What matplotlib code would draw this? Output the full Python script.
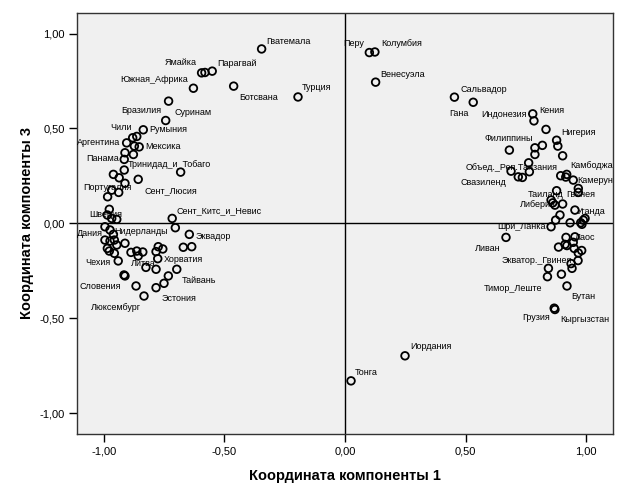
import matplotlib
matplotlib.use("Agg")
import matplotlib.pyplot as plt
from matplotlib.ticker import FuncFormatter

plt.rcParams['font.family'] = ['Liberation Sans', 'DejaVu Sans']

# страны (пустая строка - точка без подписи)
countries = [
    "Гватемала", "Ямайка", "", "Парагвай", "Южная_Африка", "Ботсвана", "Турция",
    "Суринам", "Бразилия", "Румыния", "Чили", "", "Аргентина", "", "Мексика",
    "", "", "Панама", "Тринидад_и_Тобаго", "", "", "", "Сент_Люсия", "",
    "Португалия", "", "", "", "Швеция", "", "", "Сент_Китс_и_Невис", "", "",
    "Нидерланды", "", "Дания", "", "", "", "", "", "", "", "", "", "", "",
    "", "", "", "Хорватия", "Эквадор", "", "", "Чехия", "Литва", "", "Тайвань",
    "", "", "", "Словения", "Эстония", "", "Люксембург",
    "Перу", "Колумбия", "Венесуэла", "Сальвадор", "Гана", "Индонезия", "Кения",
    "", "Нигерия", "", "", "", "Филиппины", "", "", "", "Объед._Реп.Танзания",
    "", "Свазиленд", "", "", "Камбоджа", "", "Камерун", "Таиланд", "", "Гвинея",
    "", "Либерия", "", "", "Уганда", "", "", "", "", "", "", "", "Шри_Ланка",
    "Ливан", "Лаос", "", "", "", "", "", "", "", "", "", "Экватор._Гвинея",
    "", "", "Тимор_Леште", "", "Бутан", "Грузия", "Кыргызстан", "Иордания", "Тонга",
]

comp1 = [
    -0.346, -0.595, -0.581, -0.551, -0.629, -0.462, -0.195,
    -0.732, -0.744, -0.837, -0.864, -0.881, -0.906, -0.874, -0.854,
    -0.913, -0.878, -0.916, -0.916, -0.682, -0.961, -0.937, -0.858, -0.913,
    -0.968, -0.939, -0.985, -0.978, -0.986, -0.968, -0.947, -0.717, -0.704, -0.996,
    -0.975, -0.961, -0.996, -0.975, -0.957, -0.913, -0.947, -0.986, -0.978, -0.957, -0.888, -0.864, -0.839, -0.858,
    -0.775, -0.756, -0.784, -0.777, -0.646, -0.671, -0.636, -0.941, -0.826, -0.784, -0.698,
    -0.733, -0.917, -0.913, -0.867, -0.784, -0.751, -0.834,
    0.101, 0.124, 0.127, 0.454, 0.532, 0.779, 0.784,
    0.834, 0.878, 0.883, 0.819, 0.788, 0.682, 0.788, 0.903, 0.762, 0.689,
    0.765, 0.719, 0.736, 0.895, 0.920, 0.916, 0.947, 0.878, 0.968, 0.968,
    0.855, 0.862, 0.871, 0.903, 0.954, 0.892, 0.874, 0.934, 0.978, 0.989, 0.996, 0.983, 0.855,
    0.668, 0.917, 0.954, 0.913, 0.921, 0.947, 0.886, 0.951, 0.982, 0.968, 0.967, 0.938,
    0.942, 0.844, 0.840, 0.898, 0.921, 0.868, 0.871, 0.249, 0.025,
]

comp3 = [
    0.919, 0.793, 0.795, 0.802, 0.712, 0.723, 0.666,
    0.644, 0.542, 0.493, 0.458, 0.451, 0.424, 0.407, 0.403,
    0.372, 0.363, 0.337, 0.281, 0.270, 0.258, 0.240, 0.232, 0.211,
    0.175, 0.163, 0.140, 0.074, 0.044, 0.026, 0.021, 0.026, -0.023, -0.018,
    -0.035, -0.058, -0.088, -0.093, -0.088, -0.105, -0.114, -0.132, -0.146, -0.158, -0.153, -0.146, -0.151, -0.172,
    -0.123, -0.135, -0.149, -0.186, -0.058, -0.126, -0.123, -0.198, -0.232, -0.242, -0.242,
    -0.277, -0.272, -0.277, -0.330, -0.339, -0.316, -0.383,
    0.900, 0.903, 0.744, 0.665, 0.638, 0.577, 0.540,
    0.495, 0.438, 0.407, 0.411, 0.398, 0.386, 0.363, 0.356, 0.319, 0.275,
    0.272, 0.245, 0.242, 0.251, 0.258, 0.244, 0.228, 0.172, 0.184, 0.163,
    0.123, 0.108, 0.096, 0.102, 0.070, 0.044, 0.017, 0.003, 0.003, 0.017, 0.026, -0.005, -0.018,
    -0.074, -0.074, -0.071, -0.111, -0.117, -0.100, -0.125, -0.132, -0.143, -0.156, -0.196, -0.212,
    -0.237, -0.237, -0.281, -0.268, -0.330, -0.447, -0.454, -0.698, -0.830,
]

ticks = [-1.0, -0.5, 0.0, 0.5, 1.0]

# смещения подписей от точек в пикселях (dx, dy, выравнивание)
label_pos = {
    "Гватемала": (5, 7, 'left'), "Ямайка": (-5, 10, 'right'), "Парагвай": (5, 8, 'left'),
    "Южная_Африка": (-5, 9, 'right'), "Ботсвана": (6, -11, 'left'), "Турция": (4, 9, 'left'),
    "Суринам": (6, -11, 'left'), "Бразилия": (-4, 10, 'right'), "Чили": (-5, 9, 'right'),
    "Румыния": (6, 0, 'left'), "Аргентина": (-6, 0, 'right'), "Мексика": (6, 0, 'left'),
    "Панама": (-5, 1, 'right'), "Тринидад_и_Тобаго": (4, 6, 'left'),
    "Португалия": (-28, 3, 'left'), "Сент_Люсия": (6, -11, 'left'), "Швеция": (-18, 0, 'left'),
    "Сент_Китс_и_Невис": (4, 8, 'left'), "Нидерланды": (4, -2, 'left'), "Дания": (-2, 7, 'right'),
    "Эквадор": (6, -2, 'left'), "Хорватия": (6, -1, 'left'), "Чехия": (-8, -2, 'right'),
    "Литва": (-15, 4, 'left'), "Тайвань": (5, -11, 'left'), "Словения": (-15, -1, 'right'),
    "Эстония": (6, -11, 'left'), "Люксембург": (-3, -11, 'right'),
    "Перу": (-5, 9, 'right'), "Колумбия": (6, 8, 'left'), "Венесуэла": (5, 8, 'left'),
    "Сальвадор": (6, 8, 'left'), "Гана": (-5, -11, 'right'), "Индонезия": (-6, -1, 'right'),
    "Кения": (5, 10, 'left'), "Нигерия": (5, 8, 'left'), "Филиппины": (-25, 12, 'left'),
    "Объед._Реп.Танзания": (-45, 4, 'left'), "Камбоджа": (4, 9, 'left'), "Камерун": (4, 0, 'left'),
    "Свазиленд": (-12, -6, 'right'), "Таиланд": (-29, -4, 'left'), "Гвинея": (-12, -2, 'left'),
    "Либерия": (-33, -2, 'left'), "Уганда": (2, -1, 'left'), "Шри_Ланка": (-5, 0, 'right'),
    "Ливан": (-5, -11, 'right'), "Лаос": (9, 0, 'left'), "Экватор._Гвинея": (1, 3, 'right'),
    "Тимор_Леште": (-5, -12, 'right'), "Бутан": (4, -11, 'left'), "Грузия": (-4, -9, 'right'),
    "Кыргызстан": (5, -10, 'left'), "Иордания": (5, 9, 'left'), "Тонга": (4, 8, 'left'),
}

fig = plt.figure(figsize=(6.25, 5), dpi=100)
ax = fig.add_axes([0.1232, 0.132, 0.8576, 0.8426])
ax.set_facecolor('#F0F0F0')

ax.axhline(0, color='black', lw=1, zorder=1)
ax.axvline(0, color='black', lw=1, zorder=1)
ax.scatter(comp1, comp3, s=30, facecolors='none', edgecolors='black', linewidths=1.3, zorder=3)

for name, x, y in zip(countries, comp1, comp3):
    if name:
        dx, dy, ha = label_pos[name]
        ax.annotate(name, (x, y), xytext=(dx, dy), textcoords='offset pixels',
                    ha=ha, va='center', fontsize=6.5, zorder=4)

ax.set_xlim(-1.112, 1.112)
ax.set_ylim(-1.11, 1.11)
ax.set_xticks(ticks)
ax.set_yticks(ticks)
fmt = FuncFormatter(lambda v, p: ('%.2f' % v).replace('.', ','))
ax.xaxis.set_major_formatter(fmt)
ax.yaxis.set_major_formatter(fmt)
ax.tick_params(direction='out', length=6, width=1, labelsize=8, pad=3)
for s in ax.spines.values():
    s.set_color('#333333')
    s.set_linewidth(1)

ax.set_xlabel("Координата компоненты 1", fontsize=10.5, fontweight='bold', labelpad=9)
ax.set_ylabel("Координата компоненты 3", fontsize=10.5, fontweight='bold', labelpad=4)

fig.savefig('out.png', dpi=100)
